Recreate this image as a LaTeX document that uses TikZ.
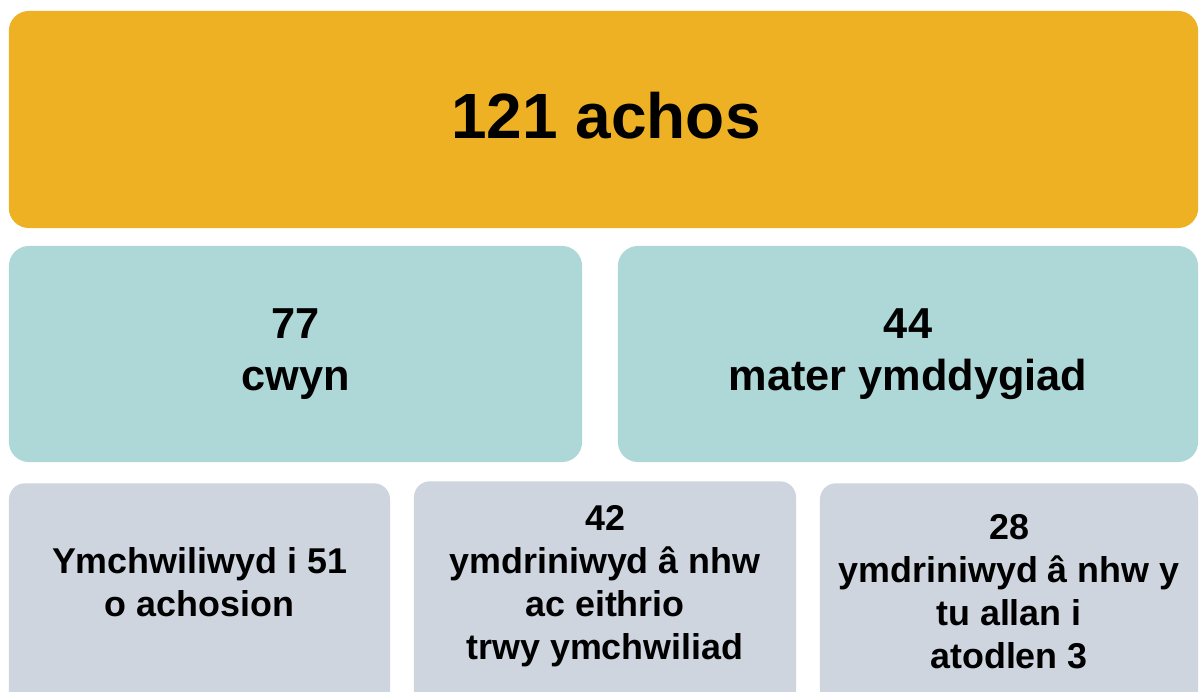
\documentclass[tikz,border=0pt]{standalone}
\usepackage{fontspec}
\setmainfont{Liberation Sans}
\definecolor{achosgold}{HTML}{EEB123}
\definecolor{achosteal}{HTML}{AED8D7}
\definecolor{achosgrey}{HTML}{CED5DF}
\tikzset{
  bigbox/.style={fill=achosgold, rounded corners=0.5cm, inner sep=0pt,
    minimum width=29.725cm, minimum height=5.425cm},
  bigtxt/.style={inner sep=0pt, font=\fontsize{45.5}{52}\selectfont\bfseries},
  midbox/.style={fill=achosteal, rounded corners=0.5cm, inner sep=0pt, align=center,
    minimum height=5.4cm, font=\fontsize{30.8}{37}\selectfont\bfseries},
  lowbox/.style={fill=achosgrey, rounded corners=0.4cm, inner sep=0pt,
    anchor=north, minimum height=6cm},
  lowtxt/.style={align=center, inner sep=0pt, font=\fontsize{25.5}{30.6}\selectfont\bfseries}
}
\begin{document}
\begin{tikzpicture}[x=0.025cm, y=-0.025cm]
  \clip (0,0) rectangle (1200,691);
  \fill[white] (0,0) rectangle (1200,691);

  \node[bigbox] (all) at (603.5,119.5) {};
  \node[bigtxt] (alltxt) at (606,115.5) {121 achos};

  \node[midbox, minimum width=14.325cm] (cwyn) at (295.5,354) {77\\cwyn};
  \node[midbox, minimum width=14.5cm] (mater) at (908,354) {44\\mater ymddygiad};

  \node[lowbox, minimum width=9.525cm] (ymch) at (199.5,483) {};
  \node[lowbox, minimum width=9.55cm] (eithrio) at (605,481) {};
  \node[lowbox, minimum width=9.45cm] (atodlen) at (1009,483) {};

  \node[lowtxt] (ymchtxt) at (199.5,582.5) {Ymchwiliwyd i 51\\o achosion};
  \node[lowtxt] (eithriotxt) at (605,586) {42\\ymdriniwyd â nhw\\ac eithrio\\trwy ymchwiliad};
  \node[lowtxt] (atodlentxt) at (1009,592) {28\\ymdriniwyd â nhw y\\tu allan i\\atodlen 3};
\end{tikzpicture}
\end{document}
